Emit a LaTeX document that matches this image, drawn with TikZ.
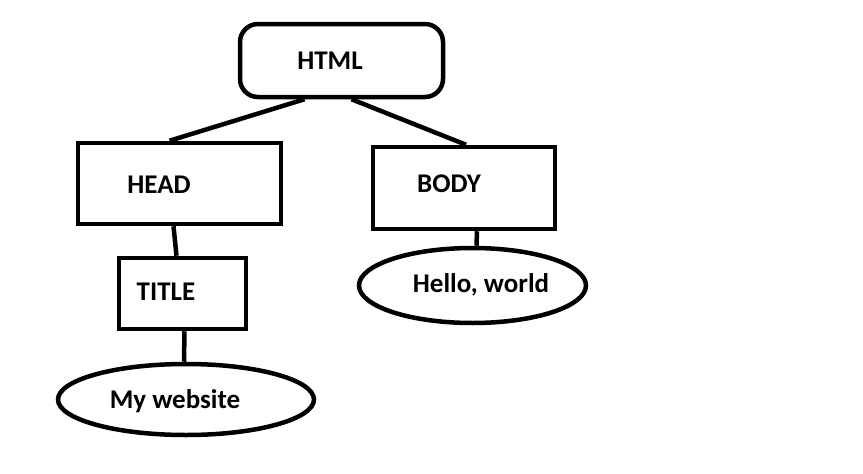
\documentclass[tikz,border=0pt]{standalone}
\usepackage{fontspec}
\setmainfont{Carlito}
\usetikzlibrary{shapes.geometric}

\begin{document}
\begin{tikzpicture}[x=1pt,y=-1pt,line width=4.5pt,
  box/.style={draw,rectangle,inner sep=0pt},
  roundbox/.style={box,rounded corners=18pt},
  oval/.style={draw,ellipse,inner sep=0pt},
  lbl/.style={anchor=base,inner sep=0pt,font=\bfseries\fontsize{27}{32}\selectfont}]
  \useasboundingbox[fill=white] (0,0) rectangle (863,474);
  % tree shapes
  \node[roundbox,minimum width=203pt,minimum height=73pt] (html) at (341.5,60.5) {};
  \node[box,minimum width=203pt,minimum height=81pt] (head) at (179.5,183.5) {};
  \node[box,minimum width=182pt,minimum height=82pt] (body) at (464,188) {};
  \node[box,minimum width=127pt,minimum height=71pt] (title) at (182.5,293.5) {};
  \node[oval,minimum width=227pt,minimum height=75pt] (hello) at (472.5,285.5) {};
  \node[oval,minimum width=256pt,minimum height=71pt] (website) at (186,399.5) {};
  % labels
  \node[lbl] (htmltext) at (330,69) {HTML};
  \node[lbl] (headtext) at (159,193) {HEAD};
  \node[lbl] (bodytext) at (449,192) {BODY};
  \node[lbl] (titletext) at (166,300) {TITLE};
  \node[lbl] (hellotext) at (481,292) {Hello, world};
  \node[lbl] (websitetext) at (175,408) {My website};
  % connectors
  \draw ([xshift=-37pt]html.south) -- ([xshift=-10pt]head.north);
  \draw ([xshift=10pt]html.south) -- ([xshift=2pt]body.north);
  \draw ([xshift=-6pt]head.south) -- ([xshift=-6pt]title.north);
  \draw ([xshift=13pt]body.south) -- ([xshift=4pt]hello.north);
  \draw ([xshift=2pt]title.south) -- ([xshift=-2pt]website.north);
\end{tikzpicture}
\end{document}
